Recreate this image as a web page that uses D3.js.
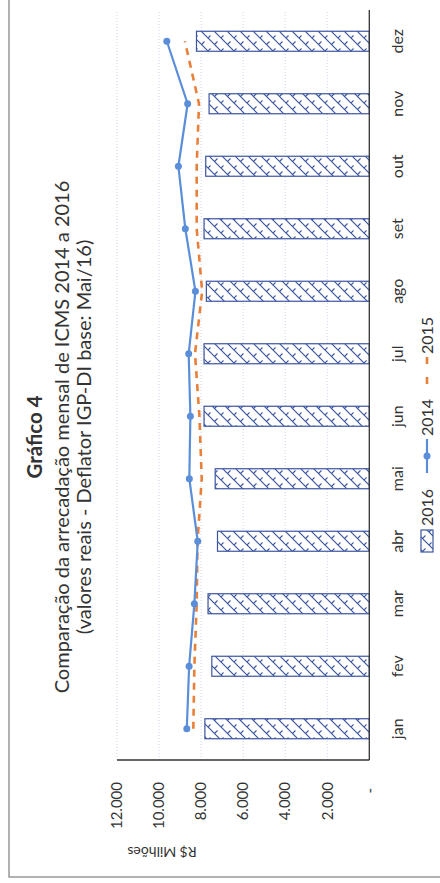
<!DOCTYPE html>
<html><head><meta charset="utf-8">
<script src="https://cdn.jsdelivr.net/npm/d3@7"></script>
<style>html,body{margin:0;padding:0;background:#fff;}svg{display:block;}</style>
</head><body>
<script>
const categories = ["jan","fev","mar","abr","mai","jun","jul","ago","set","out","nov","dez"];
const values2016 = [7820,7490,7670,7220,7330,7860,7860,7750,7860,7780,7620,8220];
const values2014 = [8680,8570,8320,8160,8560,8510,8590,8270,8750,9080,8640,9630];
const values2015 = [8370,8320,8210,8170,7970,8080,8290,7950,8210,8210,8100,8770];
const yTicks = [0,2000,4000,6000,8000,10000,12000];
const titleLines = ["Gráfico 4","Comparação da arrecadação mensal de ICMS 2014 a 2016","(valores reais - Deflator IGP-DI base: Mai/16)"];
const seriesNames = ["2016","2014","2015"];

const SW = 440, SH = 883;
const font = "Lato, 'Open Sans', sans-serif";
const svg = d3.select("body").append("svg").attr("width", SW).attr("height", SH);

const defs = svg.append("defs");
const pat = defs.append("pattern").attr("id","hatch").attr("patternUnits","userSpaceOnUse")
  .attr("width",13).attr("height",13).attr("patternTransform","rotate(90)");
pat.append("rect").attr("width",13).attr("height",13).attr("fill","#fff");
pat.append("path").attr("d","M-1,-1L14,14M-7.5,5.5L7.5,20.5M5.5,-7.5L20.5,7.5").attr("stroke","#3b55a0").attr("stroke-width",1.2).attr("fill","none");
pat.append("path").attr("d","M6.5,6.5L9.5,3.5M0,13L2.5,10.5").attr("stroke","#3b55a0").attr("stroke-width",1.1).attr("fill","none");

const g = svg.append("g").attr("transform",`translate(0,${SH}) rotate(-90)`);

g.append("rect").attr("x",6).attr("y",9).attr("width",900).attr("height",460)
  .attr("fill","none").attr("stroke","#888").attr("stroke-width",1.3);

const x = d3.scaleBand().domain(categories).range([123,873]).paddingInner(0.68).paddingOuter(0.34);
const y = d3.scaleLinear().domain([0,12000]).range([369.3,117]);

g.append("g").selectAll("line").data(yTicks.filter(d=>d>0)).join("line")
  .attr("x1",123).attr("x2",873).attr("y1",d=>y(d)).attr("y2",d=>y(d))
  .attr("stroke","#c9d6ea").attr("stroke-width",1).attr("stroke-dasharray","1,2");

g.append("g").selectAll("rect").data(values2016).join("rect")
  .attr("x",(d,i)=>x(categories[i])).attr("width",x.bandwidth())
  .attr("y",d=>y(d)).attr("height",d=>y(0)-y(d))
  .attr("fill","url(#hatch)").attr("stroke","#3b55a0").attr("stroke-width",1.2);

g.append("line").attr("x1",123).attr("x2",873).attr("y1",y(0)).attr("y2",y(0)).attr("stroke","#333").attr("stroke-width",1.3);
g.append("line").attr("x1",123).attr("x2",123).attr("y1",y(12000)).attr("y2",y(0)).attr("stroke","#333").attr("stroke-width",1.3);

const cx = c => x(c) + x.bandwidth()/2;
const line = d3.line().x((d,i)=>cx(categories[i])).y(d=>y(d));
g.append("path").datum(values2015).attr("d",line).attr("fill","none")
  .attr("stroke","#e8803a").attr("stroke-width",2.6).attr("stroke-dasharray","7,6");
g.append("path").datum(values2014).attr("d",line).attr("fill","none")
  .attr("stroke","#5b8ed8").attr("stroke-width",2.2);
g.append("g").selectAll("circle").data(values2014).join("circle")
  .attr("cx",(d,i)=>cx(categories[i])).attr("cy",d=>y(d)).attr("r",3.5).attr("fill","#5b8ed8");

g.append("g").selectAll("text").data(yTicks).join("text")
  .attr("x",d=>d===0?95:101).attr("y",d=>y(d)).attr("dy","0.35em").attr("text-anchor","end")
  .attr("font-family",font).attr("font-size",15).attr("fill","#333")
  .text(d=>d===0?"-":d3.format(",")(d).replace(/,/g,"."));

g.append("text").attr("transform","translate(31,162) rotate(-90)").attr("text-anchor","middle").attr("dy","0.35em")
  .attr("font-family",font).attr("font-size",14).attr("fill","#333").text("R$ Milhões");

g.append("g").selectAll("text").data(categories).join("text")
  .attr("x",d=>cx(d)).attr("y",397).attr("dy","0.35em").attr("text-anchor","middle")
  .attr("font-family",font).attr("font-size",16).attr("fill","#333").text(d=>d);

const tY = [35,62,84];
titleLines.forEach((t,i)=>{
  g.append("text").attr("x",446).attr("y",tY[i]).attr("dy","0.35em").attr("text-anchor","middle")
   .attr("font-family",font).attr("font-size",i===0?20.5:20).attr("font-weight",i===0?"bold":"normal")
   .attr("fill","#333").text(t);
});

const lg = g.append("g").attr("font-family",font).attr("font-size",16).attr("fill","#333");
lg.append("rect").attr("x",331).attr("y",421).attr("width",22).attr("height",12)
  .attr("fill","url(#hatch)").attr("stroke","#3b55a0").attr("stroke-width",1.2);
lg.append("text").attr("x",357).attr("y",427).attr("dy","0.35em").text(seriesNames[0]);
lg.append("line").attr("x1",410).attr("x2",444).attr("y1",427).attr("y2",427).attr("stroke","#5b8ed8").attr("stroke-width",2.2);
lg.append("circle").attr("cx",427).attr("cy",427).attr("r",3.5).attr("fill","#5b8ed8");
lg.append("text").attr("x",447).attr("y",427).attr("dy","0.35em").text(seriesNames[1]);
lg.append("line").attr("x1",499).attr("x2",526).attr("y1",427).attr("y2",427).attr("stroke","#e8803a").attr("stroke-width",2.6).attr("stroke-dasharray","7,13");
lg.append("text").attr("x",529).attr("y",427).attr("dy","0.35em").text(seriesNames[2]);
</script>
</body></html>
